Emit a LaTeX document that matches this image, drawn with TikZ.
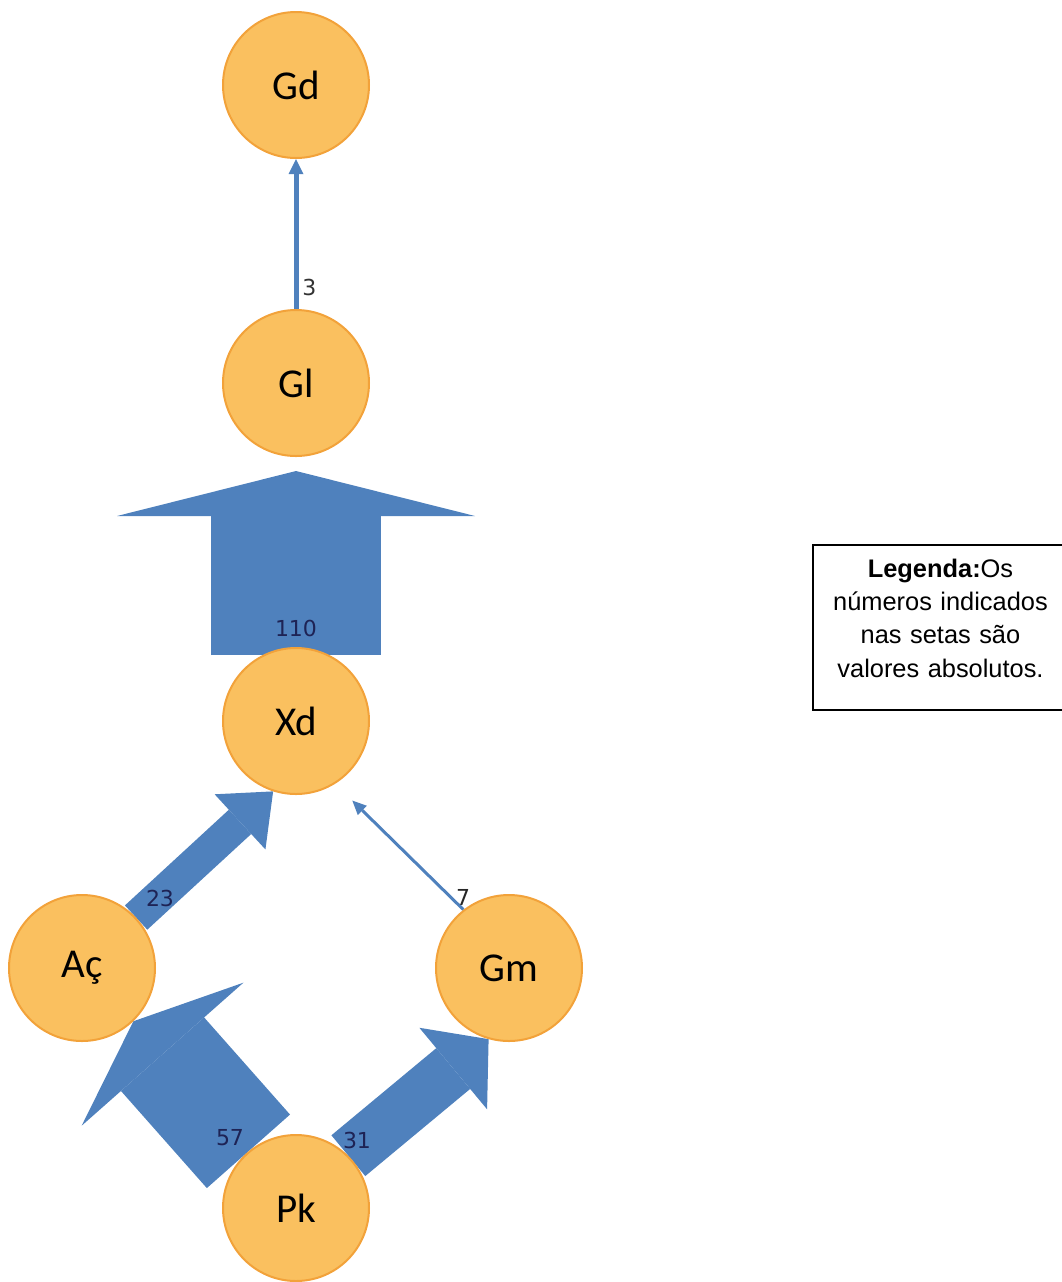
\documentclass[tikz,border=0pt]{standalone}
\usepackage{fontspec}
\newfontfamily\nodefont{Carlito}
\newfontfamily\numfont{DejaVu Sans}
\newfontfamily\legfont{Liberation Sans}
\usepackage{tikz}
\usetikzlibrary{arrows.meta, backgrounds}
\definecolor{flowblue}{RGB}{79,129,189}
\definecolor{nodefill}{RGB}{250,192,95}
\definecolor{nodeedge}{RGB}{242,162,58}
\definecolor{numcol}{RGB}{30,35,85}
\tikzstyle{state} = [circle, draw=nodeedge, fill=nodefill, line width=1pt, minimum size=73pt, inner sep=0pt, font=\nodefont\fontsize{20.5}{24}\selectfont]
\tikzstyle{flow} = [draw=flowblue]
\tikzstyle{num} = [font=\numfont\fontsize{11}{13}\selectfont, text=numcol, inner sep=0pt]
\tikzstyle{legend} = [draw, line width=0.75pt, text width=122pt, inner xsep=1pt, minimum width=127.5pt, minimum height=82.5pt, text height=9pt, text depth=59.5pt, align=center, font=\legfont\fontsize{12.7}{16.7}\selectfont]

\begin{document}
\begin{tikzpicture}[x=0.5pt, y=-0.5pt]
	\useasboundingbox (0,0) rectangle (1062,1282);
	\node[state] (Gd) at (296,85) {Gd};
	\node[state] (Gl) at (296,383) {Gl};
	\node[state] (Xd) at (296,721) {Xd};
	\node[state] (Ac) at (82,968) {Aç};
	\node[state] (Gm) at (509,968) {Gm};
	\node[state] (Pk) at (296,1208) {Pk};
	\begin{scope}[on background layer]
	\draw[flow, line width=2.5pt, -{Triangle[width=7.5pt, length=7.5pt, line width'=0pt]}] (Gl.north) -- (Gd.south);
	\draw[flow, line width=85pt, shorten <=-4pt, shorten >=7pt, -{Triangle[width=179pt, length=22.5pt, line width'=0pt]}] (Xd.north) -- (Gl.south);
	\draw[flow, line width=16.5pt, -{Triangle[width=37.5pt, length=22.5pt, line width'=0pt]}] (Ac.43) -- (Xd.252);
	\draw[flow, line width=1.5pt, shorten >=12pt, -{Triangle[width=6.5pt, length=7pt, line width'=0pt]}] (Gm.128) -- (Xd.302);
	\draw[flow, line width=55.5pt, -{Triangle[width=108pt, length=22pt, line width'=0pt]}] (Pk.130) -- (Ac.314);
	\draw[flow, line width=26.5pt, -{Triangle[width=53pt, length=23pt, line width'=0pt]}] (Pk.45) -- (Gm.254);
	\end{scope}
	\node[num, text=black!80, anchor=west] (n3) at (302,287) {3};
	\node[num] (n110) at (296,628) {110};
	\node[num] (n23) at (160,898) {23};
	\node[num, text=black!85] (n7) at (463,897) {7};
	\node[num] (n57) at (230,1138) {57};
	\node[num] (n31) at (357,1140) {31};
	\node[legend] (leg) at (940.5,627.5) {\textbf{Legenda:}Os\\números indicados\\nas setas são\\valores absolutos.};
\end{tikzpicture}
\end{document}
